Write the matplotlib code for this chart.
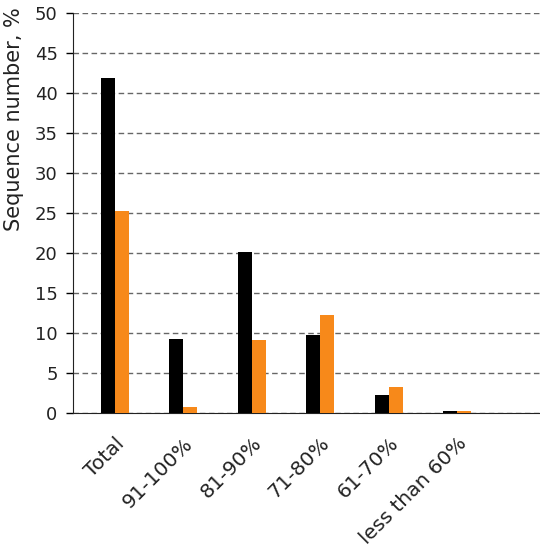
import matplotlib
matplotlib.use("Agg")
import matplotlib.pyplot as plt
import numpy as np

categories = ["Total", "91-100%", "81-90%", "71-80%", "61-70%", "less than 60%"]
black_vals = [41.8, 9.2, 20.1, 9.7, 2.3, 0.25]
orange_vals = [25.2, 0.7, 9.1, 12.2, 3.2, 0.25]
yticks = [0, 5, 10, 15, 20, 25, 30, 35, 40, 45, 50]

plt.rcParams['font.family'] = ['DejaVu Sans']
fig = plt.figure(figsize=(5.4, 5.6), dpi=100)
ax = fig.add_axes([0.135, 0.2625, 0.865, 0.7145])

x = np.arange(len(categories))
w = 0.205
ax.bar(x - w/2, black_vals, w, color='black', zorder=3)
ax.bar(x + w/2, orange_vals, w, color='#F7891A', zorder=3)

ax.set_xlim(-0.61, 6.21)
ax.set_ylim(0, 50)
ax.set_yticks(yticks)
ax.set_yticklabels([str(t) for t in yticks], fontsize=13, color='#222222')
ax.yaxis.grid(True, linestyle=(0, (4, 2.5)), color='#666666', linewidth=1, zorder=0)
ax.set_axisbelow(True)

ax.set_xticks(x)
ax.set_xticklabels(categories, rotation=45, ha='right', rotation_mode='anchor', fontsize=14.5, color='#222222')
ax.tick_params(axis='x', length=0, pad=15)
ax.tick_params(axis='y', length=5, direction='out', width=1, pad=6)

for s in ['top', 'right']:
    ax.spines[s].set_visible(False)
ax.spines['left'].set_color('#222222')
ax.spines['bottom'].set_color('#222222')

ax.set_ylabel("Sequence number, %", fontsize=15, color='#222222')
ax.yaxis.set_label_coords(-0.105, 0.735)

fig.savefig("out.png", dpi=100)
